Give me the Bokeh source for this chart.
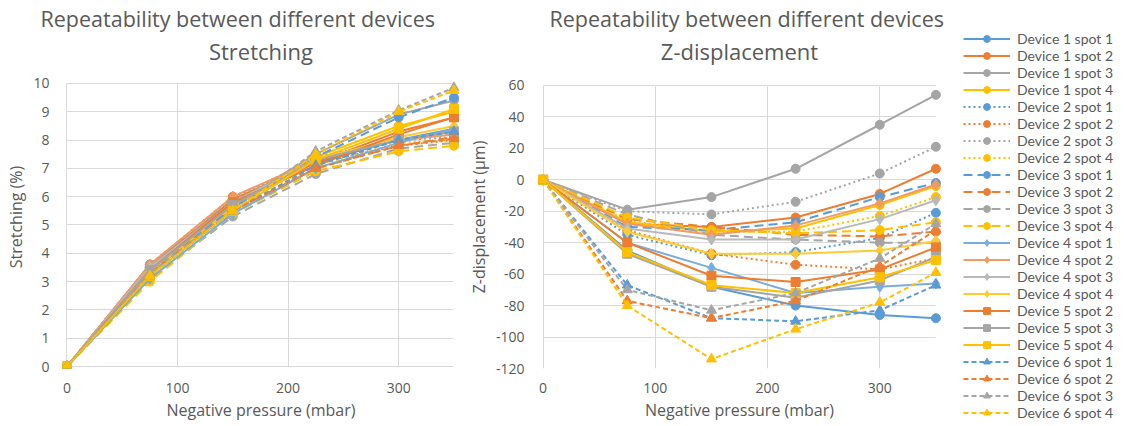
from bokeh.plotting import figure
from bokeh.layouts import row, column
from bokeh.models import Legend, LegendItem, Title, FixedTicker, Range1d, Grid, Spacer
from bokeh.embed import file_html
from bokeh.resources import INLINE

# Negative pressure steps (mbar)
pressure = [0, 75, 150, 225, 300, 350]
x_ticks = [0, 100, 200, 300]
stretch_ticks = list(range(0, 11))
z_ticks = list(range(-120, 61, 20))

labels = [
    "Device 1 spot 1", "Device 1 spot 2", "Device 1 spot 3", "Device 1 spot 4",
    "Device 2 spot 1", "Device 2 spot 2", "Device 2 spot 3", "Device 2 spot 4",
    "Device 3 spot 1", "Device 3 spot 2", "Device 3 spot 3", "Device 3 spot 4",
    "Device 4 spot 1", "Device 4 spot 2", "Device 4 spot 3", "Device 4 spot 4",
    "Device 5 spot 2", "Device 5 spot 3", "Device 5 spot 4",
    "Device 6 spot 1", "Device 6 spot 2", "Device 6 spot 3", "Device 6 spot 4",
]

# Stretching (%)
st_d1s1 = [0, 3.6, 5.8, 7.2, 8.0, 8.4]
st_d1s2 = [0, 3.5, 5.9, 7.2, 8.3, 8.8]
st_d1s3 = [0, 3.5, 5.7, 7.5, 8.9, 9.4]
st_d1s4 = [0, 3.3, 5.6, 7.4, 8.5, 9.0]
st_d2s1 = [0, 3.5, 5.8, 7.3, 8.0, 8.2]
st_d2s2 = [0, 3.6, 6.0, 7.2, 7.8, 8.0]
st_d2s3 = [0, 3.6, 5.9, 7.4, 8.0, 8.1]
st_d2s4 = [0, 3.3, 5.7, 7.1, 7.9, 8.0]
st_d3s1 = [0, 3.4, 5.6, 7.4, 8.8, 9.5]
st_d3s2 = [0, 3.3, 5.5, 7.0, 7.8, 8.1]
st_d3s3 = [0, 3.1, 5.3, 6.8, 7.7, 7.9]
st_d3s4 = [0, 3.0, 5.4, 6.9, 7.6, 7.8]
st_d4s1 = [0, 3.1, 5.4, 7.0, 7.9, 8.4]
st_d4s2 = [0, 3.6, 6.0, 7.3, 8.0, 8.2]
st_d4s3 = [0, 3.5, 5.8, 7.3, 8.0, 8.3]
st_d4s4 = [0, 3.4, 5.7, 7.3, 8.1, 8.5]
st_d5s2 = [0, 3.4, 5.8, 7.1, 8.2, 8.8]
st_d5s3 = [0, 3.4, 5.7, 7.3, 8.0, 8.3]
st_d5s4 = [0, 3.2, 5.5, 7.3, 8.4, 9.1]
st_d6s1 = [0, 3.2, 5.5, 7.1, 8.0, 8.3]
st_d6s2 = [0, 3.3, 5.5, 7.0, 7.8, 8.05]
st_d6s3 = [0, 3.3, 5.5, 7.6, 9.05, 9.85]
st_d6s4 = [0, 3.2, 5.5, 7.5, 9.0, 9.75]

# Z-displacement (µm)
z_d1s1 = [0, -45, -68, -80, -86, -88]
z_d1s2 = [0, -28, -30, -24, -9, 7]
z_d1s3 = [0, -19, -11, 7, 35, 54]
z_d1s4 = [0, -27, -33, -31, -16, -4]
z_d2s1 = [0, -35, -48, -46, -37, -21]
z_d2s2 = [0, -32, -47, -54, -57, -50]
z_d2s3 = [0, -20, -22, -14, 4, 21]
z_d2s4 = [0, -26, -33, -33, -23, -11]
z_d3s1 = [0, -30, -32, -27, -11, -2]
z_d3s2 = [0, -25, -30, -35, -36, -33]
z_d3s3 = [0, -22, -35, -38, -40, -40]
z_d3s4 = [0, -24, -32, -34, -32, -27]
z_d4s1 = [0, -40, -56, -72, -68, -66]
z_d4s2 = [0, -28, -35, -29, -15, -3]
z_d4s3 = [0, -31, -38, -38, -25, -13]
z_d4s4 = [0, -33, -47, -47, -45, -39]
z_d5s2 = [0, -40, -61, -65, -57, -43]
z_d5s3 = [0, -47, -68, -75, -64, -49]
z_d5s4 = [0, -46, -67, -72, -62, -51]
z_d6s1 = [0, -67, -88, -90, -83, -67]
z_d6s2 = [0, -77, -88, -77, -55, -32]
z_d6s3 = [0, -70, -83, -72, -50, -28]
z_d6s4 = [0, -80, -114, -95, -78, -59]

stretching = [st_d1s1, st_d1s2, st_d1s3, st_d1s4, st_d2s1, st_d2s2, st_d2s3, st_d2s4,
              st_d3s1, st_d3s2, st_d3s3, st_d3s4, st_d4s1, st_d4s2, st_d4s3, st_d4s4,
              st_d5s2, st_d5s3, st_d5s4, st_d6s1, st_d6s2, st_d6s3, st_d6s4]
zdisp = [z_d1s1, z_d1s2, z_d1s3, z_d1s4, z_d2s1, z_d2s2, z_d2s3, z_d2s4,
         z_d3s1, z_d3s2, z_d3s3, z_d3s4, z_d4s1, z_d4s2, z_d4s3, z_d4s4,
         z_d5s2, z_d5s3, z_d5s4, z_d6s1, z_d6s2, z_d6s3, z_d6s4]

# Styling per series
BLUE, ORANGE, GRAY, YELLOW = "#5B9BD5", "#ED7D31", "#A5A5A5", "#FFC000"
L_BLUE, L_ORANGE, L_GRAY, L_YELLOW = "#78ADDF", "#F19A62", "#B9B9B9", "#FFCB2E"
DOT, DASH, SHORT = "2 3", "9 5", "5 3"

styles = (
    [(c, "solid", "circle", 9) for c in (BLUE, ORANGE, GRAY, YELLOW)]
    + [(c, DOT, "circle", 9) for c in (BLUE, ORANGE, GRAY, YELLOW)]
    + [(c, DASH, "circle", 9) for c in (BLUE, ORANGE, GRAY, YELLOW)]
    + [(c, "solid", "diamond", 11) for c in (L_BLUE, L_ORANGE, L_GRAY, L_YELLOW)]
    + [(c, "solid", "square", 9) for c in (ORANGE, GRAY, YELLOW)]
    + [(c, SHORT, "triangle", 10) for c in (BLUE, ORANGE, GRAY, YELLOW)]
)

FONT = "Open Sans"
TXT = "#595959"
GRID = "#D9D9D9"
HAS_CROSS_BOUNDS = "cross_bounds" in Grid.properties()


def base_figure(width, x_range, y_range, yticks, ylabel, borders):
    left, right, top, bottom = borders
    p = figure(width=width, height=426, x_range=x_range, y_range=y_range,
               output_backend="svg", toolbar_location=None,
               min_border_left=left, min_border_right=right,
               min_border_top=top, min_border_bottom=bottom)
    p.outline_line_color = None
    p.background_fill_color = "white"
    p.border_fill_color = "white"
    p.xaxis.ticker = FixedTicker(ticks=x_ticks)
    p.yaxis.ticker = FixedTicker(ticks=yticks)
    p.yaxis.major_label_overrides = {t: str(t) for t in yticks}
    p.xgrid.ticker = FixedTicker(ticks=x_ticks)
    p.ygrid.ticker = FixedTicker(ticks=yticks)
    p.grid.grid_line_color = GRID
    p.grid.grid_line_width = 1
    # keep the grid inside the data extent (0..350 and the value axis span)
    if HAS_CROSS_BOUNDS:
        p.xgrid.cross_bounds = (yticks[0], yticks[-1])
        p.ygrid.cross_bounds = (pressure[0], pressure[-1])
    else:
        p.xgrid.visible = False
        p.segment(x0=x_ticks, y0=[yticks[0]] * len(x_ticks), x1=x_ticks,
                  y1=[yticks[-1]] * len(x_ticks), line_color=GRID, line_width=1,
                  level="underlay")
    for ax in (p.xaxis, p.yaxis):
        ax.axis_line_color = None
        ax.major_tick_line_color = None
        ax.minor_tick_line_color = None
        ax.major_label_text_font = FONT
        ax.major_label_text_font_size = "14px"
        ax.major_label_text_color = TXT
        ax.axis_label_text_font = FONT
        ax.axis_label_text_font_size = "16px"
        ax.axis_label_text_font_style = "normal"
        ax.axis_label_text_color = TXT
    p.xaxis.axis_label = "Negative pressure (mbar)"
    p.xaxis.major_label_standoff = 8
    p.xaxis.axis_label_standoff = 3
    p.yaxis.axis_label = ylabel
    p.yaxis.major_label_standoff = 7
    p.yaxis.axis_label_standoff = 3
    return p


def add_titles(p, subtitle, offset):
    p.add_layout(Title(text=subtitle, align="center", text_font=FONT,
                       text_font_size="22px", text_font_style="normal",
                       text_color=TXT, standoff=0), "above")
    p.add_layout(Title(text="Repeatability between different devices", align="left",
                       offset=offset, text_font=FONT, text_font_size="21.5px",
                       text_font_style="normal", text_color=TXT, standoff=2), "above")


def draw_series(p, data):
    items = []
    for name, ys, (color, dash, marker, size) in zip(labels, data, styles):
        ln = p.line(pressure, ys, line_color=color, line_width=2, line_dash=dash)
        sc = p.scatter(pressure, ys, marker=marker, size=size, fill_color=color,
                       line_color=color, line_width=1)
        items.append(LegendItem(label=name, renderers=[ln, sc]))
    return items


# Left: stretching
p1 = base_figure(462, Range1d(-4, 355), Range1d(-0.07, 10.634), stretch_ticks,
                 "Stretching (%)", (62, 3, 64, 58))
add_titles(p1, "Stretching", -22)
draw_series(p1, stretching)

# Right: z-displacement
p2 = base_figure(493, Range1d(-5, 355), Range1d(-120, 72.67), z_ticks,
                 "Z-displacement (µm)", (75, 14, 64, 58))
add_titles(p2, "Z-displacement", 12)
draw_series(p2, zdisp)

# Shared legend column: the series are also drawn here, outside the visible
# range, so that the legend can sit in its own panel beside the charts.
p3 = figure(width=169, height=424, x_range=Range1d(1000, 1001),
            y_range=Range1d(1000, 1001), x_axis_location=None, y_axis_location=None,
            output_backend="svg", toolbar_location=None,
            min_border_left=0, min_border_right=0, min_border_top=0,
            min_border_bottom=0)
p3.outline_line_color = None
p3.grid.visible = False
items = draw_series(p3, zdisp)

legend = Legend(items=items, location=(8, 4), orientation="vertical",
                glyph_width=47, glyph_height=17, label_height=17, spacing=0,
                padding=0, margin=0, label_standoff=7,
                label_text_font="Lato", label_text_font_size="14px",
                label_text_color=TXT, border_line_color=None,
                background_fill_alpha=0)
p3.add_layout(legend, "center")

layout = row(p1, p2, column(Spacer(width=169, height=1), p3))
open("out.html", "w").write(file_html(layout, INLINE))
